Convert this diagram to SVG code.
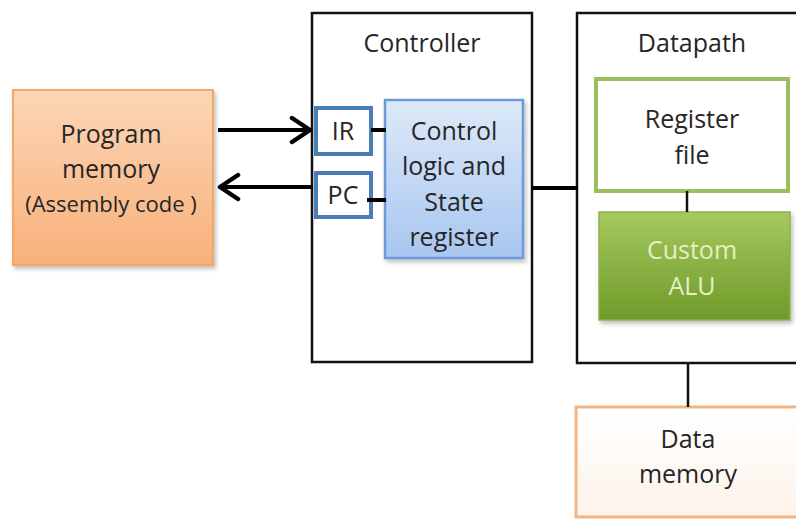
<svg xmlns="http://www.w3.org/2000/svg" width="796" height="519" viewBox="0 0 796 519">
<style>
text{font-family:"Open Sans","Liberation Sans",sans-serif;fill:#262626;text-anchor:middle}
.big{font-size:25px}
.frame{fill:#fff;stroke:#111;stroke-width:2.5}
.reg{fill:#fff;stroke:#4a7db5;stroke-width:4}
.wire{stroke:#000;stroke-width:4;fill:none}
.thin{stroke:#111;stroke-width:2.5;fill:none}
</style>
<defs>
<linearGradient id="gOrange" x1="0" y1="0" x2="0" y2="1">
<stop offset="0" stop-color="#fcd6b6"/>
<stop offset="1" stop-color="#f8b07a"/>
</linearGradient>
<linearGradient id="gBlue" x1="0" y1="0" x2="0" y2="1">
<stop offset="0" stop-color="#dde9f9"/>
<stop offset="1" stop-color="#a8c6f0"/>
</linearGradient>
<linearGradient id="gGreen" x1="0" y1="0" x2="0" y2="1">
<stop offset="0" stop-color="#a6c95e"/>
<stop offset="1" stop-color="#6f9a2a"/>
</linearGradient>
<linearGradient id="gData" x1="0" y1="0" x2="0" y2="1">
<stop offset="0" stop-color="#fff"/>
<stop offset="1" stop-color="#fdf3ea"/>
</linearGradient>
<filter id="sh" x="-10%" y="-10%" width="120%" height="120%">
<feDropShadow dx="2" dy="3" stdDeviation="2" flood-color="#000" flood-opacity="0.25"/>
</filter>
<marker id="arr" viewBox="0 0 24 30" refX="21" refY="15" markerWidth="24" markerHeight="30" markerUnits="userSpaceOnUse" orient="auto">
<path d="M3,3 L21,15 L3,27" fill="none" stroke="#000" stroke-width="4.5" stroke-linecap="round" stroke-linejoin="round"/>
</marker>
</defs>

<g id="program-memory">
<rect x="13" y="90" width="200" height="175" fill="url(#gOrange)" stroke="#f3a868" stroke-width="2" filter="url(#sh)"/>
<text class="big" x="111" y="143">Program</text>
<text class="big" x="111" y="178">memory</text>
<text x="111" y="212" font-size="22">(Assembly code )</text>
</g>

<g id="controller">
<rect class="frame" x="312" y="13" width="220" height="349"/>
<text class="big" x="422" y="52">Controller</text>
</g>

<g id="ir">
<rect class="reg" x="316" y="108" width="55" height="46"/>
<text class="big" x="343" y="140">IR</text>
</g>

<g id="pc">
<rect class="reg" x="316" y="173" width="55" height="44"/>
<text class="big" x="343" y="204">PC</text>
</g>

<g id="control-logic">
<rect x="385" y="100" width="138" height="158" fill="url(#gBlue)" stroke="#6d9ad6" stroke-width="2.5" filter="url(#sh)"/>
<text class="big" x="454" y="140">Control</text>
<text class="big" x="454" y="175">logic and</text>
<text class="big" x="454" y="211">State</text>
<text class="big" x="454" y="246">register</text>
</g>

<g id="datapath">
<rect class="frame" x="577" y="13" width="230" height="350"/>
<text class="big" x="692" y="52">Datapath</text>
</g>

<g id="register-file">
<rect x="596" y="79" width="192" height="112" fill="#fff" stroke="#9cbf5e" stroke-width="4"/>
<text class="big" x="692" y="128">Register</text>
<text class="big" x="692" y="164">file</text>
</g>

<g id="custom-alu">
<rect x="599" y="212" width="191" height="108" fill="url(#gGreen)" stroke="#8db14c" stroke-width="1.5" filter="url(#sh)"/>
<text class="big" x="692" y="259" style="fill:#e4efc4">Custom</text>
<text class="big" x="692" y="295" style="fill:#e4efc4">ALU</text>
</g>

<g id="data-memory">
<rect x="576" y="407" width="240" height="110" fill="url(#gData)" stroke="#f0b583" stroke-width="3"/>
<text class="big" x="688" y="448">Data</text>
<text class="big" x="688" y="483">memory</text>
</g>

<g id="connectors">
<line class="wire" x1="218" y1="130" x2="310" y2="130" marker-end="url(#arr)"/>
<line class="wire" x1="313" y1="187" x2="220" y2="187" marker-end="url(#arr)"/>
<line class="wire" x1="371" y1="130" x2="386" y2="130"/>
<line class="wire" x1="367" y1="200" x2="386" y2="200"/>
<line class="wire" x1="532" y1="188" x2="578" y2="188"/>
<line class="thin" x1="687" y1="191" x2="687" y2="212"/>
<line class="thin" x1="688" y1="363" x2="688" y2="407"/>
</g>
</svg>
